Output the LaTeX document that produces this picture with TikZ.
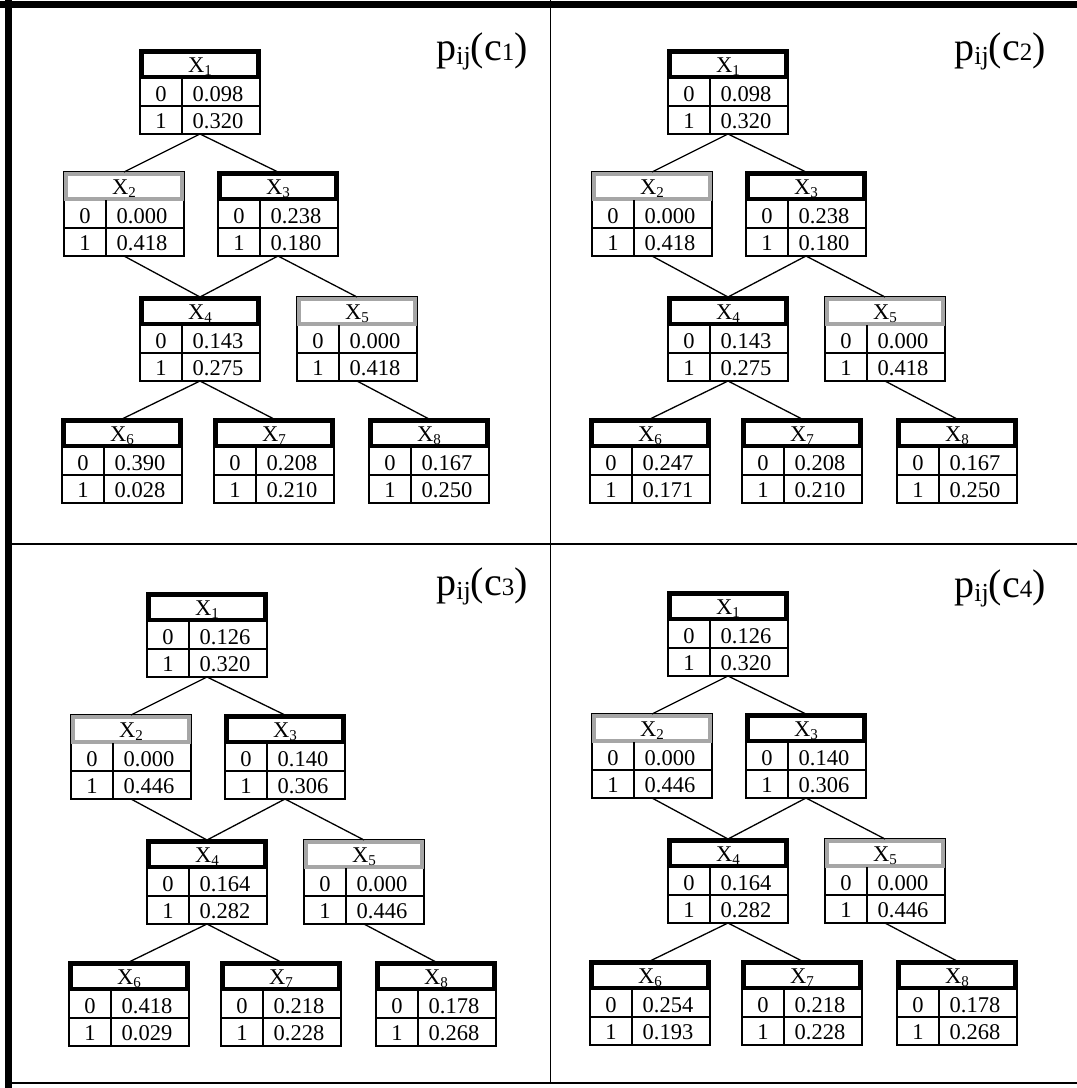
\documentclass[tikz,border=0pt]{standalone}
\usepackage{fontspec}
\setmainfont{Liberation Serif}
\definecolor{cgrey}{HTML}{A6A6A6}
\tikzset{
  cpt/.style={draw, line width=1.3pt, minimum width=120pt, minimum height=84pt, inner sep=0pt, outer sep=0pt, anchor=north west},
  hdr/.style={draw=#1, line width=4.5pt},
  hdr/.default=black,
  rule/.style={line width=1.3pt},
  cell/.style={font=\fontsize{22.5}{22.5}\selectfont, anchor=base, inner sep=0pt},
  link/.style={line width=1.3pt},
  caption/.style={font=\fontsize{40}{40}\selectfont, anchor=base east, inner sep=0pt},
  frame/.style={line width=1.5pt},
}
% small lowered index, as in X_1 and p_ij
\newcommand{\idx}[3]{\raisebox{-#2pt}{\fontsize{#1}{#1}\selectfont #3}}
% one table: name, x, y, variable, p(0), p(1), header colour
\newcommand{\cpt}[7]{%
  \begin{scope}[shift={(#2,#3)}]
    \node[cpt] (#1) at (0,0) {};
    \draw[hdr=#7] (2,2) rectangle (118,27);
    \draw[rule] (0,56) -- (120,56) (42,28) -- (42,84);
    \node[cell] (#1h) at (60,22) {X\idx{15}{3}{#4}};
    \node[cell] (#1z) at (21,51) {0};
    \node[cell] (#1o) at (21,78) {1};
    \node[cell] (#1p) at (78,51) {#5};
    \node[cell] (#1q) at (78,78) {#6};
  \end{scope}}

\begin{document}
\begin{tikzpicture}[x=1pt, y=-1pt]
  \useasboundingbox (0,0) rectangle (1077,1088);

  % frame and quarters
  \draw[line width=6.5pt] (0,4.5) -- (1077,4.5);
  \draw[line width=7pt] (8,0) -- (8,1088);
  \draw[frame] (550.5,0) -- (550.5,1083.5);
  \draw[frame] (8,544) -- (1077,544);
  \draw[frame] (8,1083) -- (1077,1083);

  % c1
  \begin{scope}
    \foreach \n/\px/\py/\pa/\pb/\hc in {1/140/50/0.098/0.320/black, 2/64/172/0.000/0.418/cgrey,
        3/218/172/0.238/0.180/black, 4/140/297/0.143/0.275/black, 5/297/297/0.000/0.418/cgrey,
        6/62/419/0.390/0.028/black, 7/214/419/0.208/0.210/black, 8/369/419/0.167/0.250/black}
      \cpt{a\n}{\px}{\py}{\n}{\pa}{\pb}{\hc};
    \foreach \u/\v in {1/2,1/3,2/4,3/4,3/5,4/6,4/7,5/8}
      \draw[link] (a\u.south) -- (a\v.north);
  \end{scope}
  \node[caption] (acap) at (528,60) {p\idx{26}{4}{ij}(c{\fontsize{25}{25}\selectfont 1})};

  % c2
  \begin{scope}[shift={(528,0)}]
    \foreach \n/\px/\py/\pa/\pb/\hc in {1/140/50/0.098/0.320/black, 2/64/172/0.000/0.418/cgrey,
        3/218/172/0.238/0.180/black, 4/140/297/0.143/0.275/black, 5/297/297/0.000/0.418/cgrey,
        6/62/419/0.247/0.171/black, 7/214/419/0.208/0.210/black, 8/369/419/0.167/0.250/black}
      \cpt{b\n}{\px}{\py}{\n}{\pa}{\pb}{\hc};
    \foreach \u/\v in {1/2,1/3,2/4,3/4,3/5,4/6,4/7,5/8}
      \draw[link] (b\u.south) -- (b\v.north);
  \end{scope}
  \node[caption] (bcap) at (1046,60) {p\idx{26}{4}{ij}(c{\fontsize{25}{25}\selectfont 2})};

  % c3
  \begin{scope}[shift={(7,543)}]
    \foreach \n/\px/\py/\pa/\pb/\hc in {1/140/50/0.126/0.320/black, 2/64/172/0.000/0.446/cgrey,
        3/218/172/0.140/0.306/black, 4/140/297/0.164/0.282/black, 5/297/297/0.000/0.446/cgrey,
        6/62/419/0.418/0.029/black, 7/214/419/0.218/0.228/black, 8/369/419/0.178/0.268/black}
      \cpt{c\n}{\px}{\py}{\n}{\pa}{\pb}{\hc};
    \foreach \u/\v in {1/2,1/3,2/4,3/4,3/5,4/6,4/7,5/8}
      \draw[link] (c\u.south) -- (c\v.north);
  \end{scope}
  \node[caption] (ccap) at (528,595) {p\idx{26}{4}{ij}(c{\fontsize{25}{25}\selectfont 3})};

  % c4
  \begin{scope}[shift={(528,542)}]
    \foreach \n/\px/\py/\pa/\pb/\hc in {1/140/50/0.126/0.320/black, 2/64/172/0.000/0.446/cgrey,
        3/218/172/0.140/0.306/black, 4/140/297/0.164/0.282/black, 5/297/297/0.000/0.446/cgrey,
        6/62/419/0.254/0.193/black, 7/214/419/0.218/0.228/black, 8/369/419/0.178/0.268/black}
      \cpt{d\n}{\px}{\py}{\n}{\pa}{\pb}{\hc};
    \foreach \u/\v in {1/2,1/3,2/4,3/4,3/5,4/6,4/7,5/8}
      \draw[link] (d\u.south) -- (d\v.north);
  \end{scope}
  \node[caption] (dcap) at (1046,597) {p\idx{26}{4}{ij}(c{\fontsize{25}{25}\selectfont 4})};
\end{tikzpicture}
\end{document}
